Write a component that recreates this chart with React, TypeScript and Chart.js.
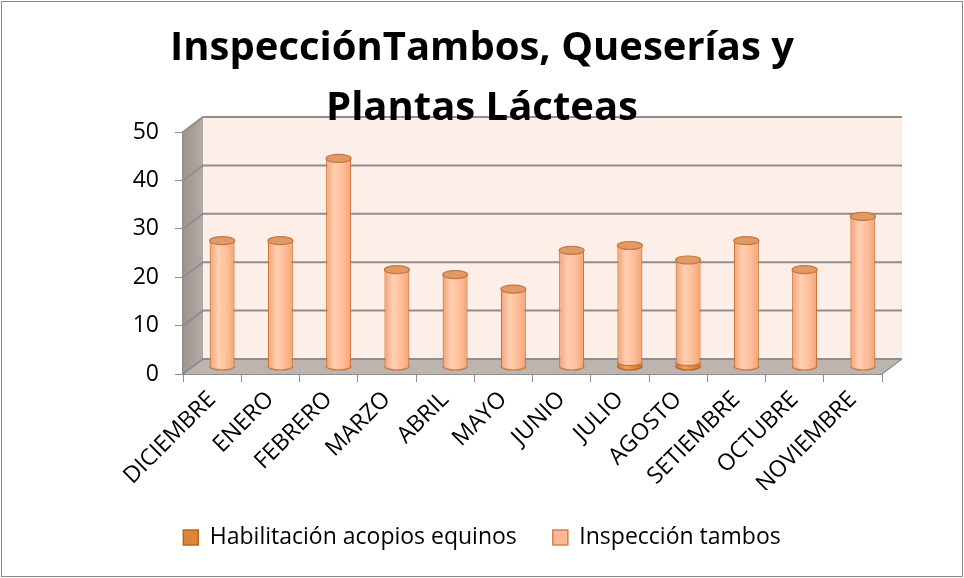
import React, { useEffect, useRef } from "react";
import { Chart, registerables } from "chart.js";

Chart.register(...registerables);

// ---------- data ----------
const CATEGORIES = [
  "DICIEMBRE", "ENERO", "FEBRERO", "MARZO", "ABRIL", "MAYO",
  "JUNIO", "JULIO", "AGOSTO", "SETIEMBRE", "OCTUBRE", "NOVIEMBRE",
];
const HABILITACION = [0, 0, 0, 0, 0, 0, 0, 1, 1, 0, 0, 0];
const INSPECCION = [26, 26, 43, 20, 19, 16, 24, 24, 21, 26, 20, 31];
const Y_TICKS = [0, 10, 20, 30, 40, 50];
const TITLE_LINES = ["InspecciónTambos, Queserías y", "Plantas Lácteas"];
const SERIES_NAMES = ["Habilitación acopios equinos", "Inspección tambos"];

// ---------- styles ----------
const FONT = "'Open Sans', Lato, sans-serif";
const DX = 20;
const DY = -15;
const BAR_PCT = 0.43;
const COLORS = [
  { edge: "#C9702E", mid: "#F0A060", base: "#E0843C", border: "#B5651D", cap: "#C8753A", legend: "#E0843C", legendBorder: "#B5651D" },
  { edge: "#F2A375", mid: "#FFCFB2", base: "#FFBC96", border: "#C8763C", cap: "#E09A68", legend: "#FFB894", legendBorder: "#D08050" },
];

function barGradient(chart: any, dsIndex: number, dataIndex: number) {
  const c = COLORS[dsIndex];
  const xs = chart.scales && chart.scales.x;
  if (!xs || !xs.width) return c.base;
  const cx = xs.getPixelForValue(dataIndex);
  const w = (xs.width / CATEGORIES.length) * BAR_PCT;
  const g = chart.ctx.createLinearGradient(cx - w / 2, 0, cx + w / 2, 0);
  g.addColorStop(0, c.edge);
  g.addColorStop(0.35, c.mid);
  g.addColorStop(0.7, c.base);
  g.addColorStop(1, c.edge);
  return g;
}

const threeD = {
  id: "threeD",
  beforeDraw(chart: any) {
    const ctx = chart.ctx;
    const { left, right, top, bottom } = chart.chartArea;
    const ys = chart.scales.y;
    ctx.save();
    ctx.fillStyle = "#ffffff";
    ctx.fillRect(0, 0, chart.width, chart.height);
    ctx.strokeStyle = "#8a8a8a";
    ctx.lineWidth = 1;
    ctx.strokeRect(1.5, 1.5, chart.width - 3, chart.height - 3);

    // back wall
    ctx.fillStyle = "#FDEEE7";
    ctx.fillRect(left + DX, top + DY, right - left, bottom - top);
    // side wall
    const sg = ctx.createLinearGradient(left, 0, left + DX, 0);
    sg.addColorStop(0, "#9E9592");
    sg.addColorStop(1, "#B3AAA6");
    ctx.fillStyle = sg;
    ctx.beginPath();
    ctx.moveTo(left, top);
    ctx.lineTo(left + DX, top + DY);
    ctx.lineTo(left + DX, bottom + DY);
    ctx.lineTo(left, bottom);
    ctx.closePath();
    ctx.fill();
    // floor
    ctx.fillStyle = "#BDB4B0";
    ctx.beginPath();
    ctx.moveTo(left, bottom);
    ctx.lineTo(right, bottom);
    ctx.lineTo(right + DX, bottom + DY);
    ctx.lineTo(left + DX, bottom + DY);
    ctx.closePath();
    ctx.fill();
    // gridlines on walls
    ctx.strokeStyle = "#8E8E8E";
    ctx.lineWidth = 2;
    Y_TICKS.forEach((v) => {
      const y = ys.getPixelForValue(v);
      ctx.beginPath();
      ctx.moveTo(left, y);
      ctx.lineTo(left + DX, y + DY);
      ctx.lineTo(right + DX, y + DY);
      ctx.stroke();
    });
    ctx.lineWidth = 1.2;
    ctx.beginPath();
    ctx.moveTo(right, bottom);
    ctx.lineTo(right + DX, bottom + DY);
    ctx.stroke();
    ctx.restore();
  },
  beforeDatasetsDraw(chart: any) {
    chart.ctx.save();
    chart.ctx.translate(DX / 2, DY / 2);
  },
  afterDatasetsDraw(chart: any) {
    const ctx = chart.ctx;
    const series = [HABILITACION, INSPECCION];
    const ry = 4;
    for (let d = 0; d < series.length; d++) {
      const meta = chart.getDatasetMeta(d);
      meta.data.forEach((el: any, i: number) => {
        const v = series[d][i];
        if (!v) return;
        const { x, y, base, width } = el.getProps(["x", "y", "base", "width"], true);
        const rx = width / 2;
        const c = COLORS[d];
        ctx.beginPath();
        ctx.ellipse(x, base, rx, ry, 0, 0, Math.PI);
        ctx.closePath();
        ctx.fillStyle = barGradient(chart, d, i);
        ctx.fill();
        ctx.beginPath();
        ctx.ellipse(x, base, rx, ry, 0, 0, Math.PI);
        ctx.strokeStyle = c.border;
        ctx.lineWidth = 1.2;
        ctx.stroke();
        let isTop = true;
        for (let k = d + 1; k < series.length; k++) if (series[k][i]) isTop = false;
        if (isTop) {
          ctx.beginPath();
          ctx.ellipse(x, y, rx, ry, 0, 0, Math.PI * 2);
          ctx.fillStyle = c.cap;
          ctx.fill();
          ctx.strokeStyle = c.border;
          ctx.lineWidth = 1.2;
          ctx.stroke();
        }
      });
    }
    ctx.restore();
  },
};

export default function App() {
  const ref = useRef<HTMLCanvasElement | null>(null);
  useEffect(() => {
    if (!ref.current) return;
    Chart.defaults.font.family = FONT;
    const chart = new Chart(ref.current, {
      type: "bar",
      data: {
        labels: CATEGORIES,
        datasets: [
          {
            label: SERIES_NAMES[0],
            data: HABILITACION,
            yAxisID: "y",
            backgroundColor: (c: any) => (c.type === "data" ? barGradient(c.chart, 0, c.dataIndex) : COLORS[0].base),
            borderColor: COLORS[0].border,
            borderWidth: 1.2,
            borderSkipped: "start",
            barPercentage: BAR_PCT,
            categoryPercentage: 1,
          },
          {
            label: SERIES_NAMES[1],
            data: INSPECCION,
            yAxisID: "y",
            backgroundColor: (c: any) => (c.type === "data" ? barGradient(c.chart, 1, c.dataIndex) : COLORS[1].base),
            borderColor: COLORS[1].border,
            borderWidth: 1.2,
            borderSkipped: "start",
            barPercentage: BAR_PCT,
            categoryPercentage: 1,
          },
        ],
      },
      options: {
        responsive: false,
        animation: false,
        events: [],
        layout: { padding: { left: 0, right: 0, top: 0, bottom: 19 } },
        scales: {
          x: {
            stacked: true,
            afterFit: (s: any) => { s.height = 116; },
            grid: { display: true, drawOnChartArea: false, drawTicks: true, tickLength: 8, color: "#8E8E8E", offset: true },
            border: { display: true, color: "#8E8E8E", width: 1 },
            ticks: {
              autoSkip: false,
              minRotation: 45,
              maxRotation: 45,
              padding: 4,
              color: "#000",
              font: { family: FONT, size: 23 },
            },
          },
          y: {
            stacked: true,
            position: "left",
            min: 0,
            max: 50,
            afterFit: (s: any) => { s.width = 183; },
            grid: { display: true, drawOnChartArea: false, drawTicks: true, tickLength: 8, color: "#8E8E8E" },
            border: { display: true, color: "#8E8E8E", width: 1.5 },
            ticks: {
              stepSize: 10,
              padding: 16,
              color: "#000",
              font: { family: FONT, size: 23 },
            },
          },
          yR: {
            position: "right",
            display: true,
            afterFit: (s: any) => { s.width = 82; },
            grid: { display: false },
            border: { display: false },
            ticks: { display: false },
          },
        },
        plugins: {
          title: {
            display: true,
            text: TITLE_LINES,
            color: "#000",
            font: { family: FONT, size: 40, weight: "bold", lineHeight: 1.5 },
            padding: { top: 19, bottom: -7 },
          },
          legend: {
            position: "bottom",
            labels: {
              boxWidth: 15,
              boxHeight: 15,
              padding: 36,
              color: "#000",
              font: { family: FONT, size: 23 },
              generateLabels: () =>
                SERIES_NAMES.map((name, i) => ({
                  text: name,
                  fillStyle: COLORS[i].legend,
                  strokeStyle: COLORS[i].legendBorder,
                  lineWidth: 1.5,
                  hidden: false,
                  datasetIndex: i,
                })),
            },
          },
          tooltip: { enabled: false },
        },
      },
      plugins: [threeD],
    } as any);
    return () => chart.destroy();
  }, []);
  return (
    <div style={{ position: "absolute", left: 0, top: 0, width: 964, height: 578 }}>
      <canvas ref={ref} width={964} height={578} style={{ width: 964, height: 578, display: "block" }} />
    </div>
  );
}
